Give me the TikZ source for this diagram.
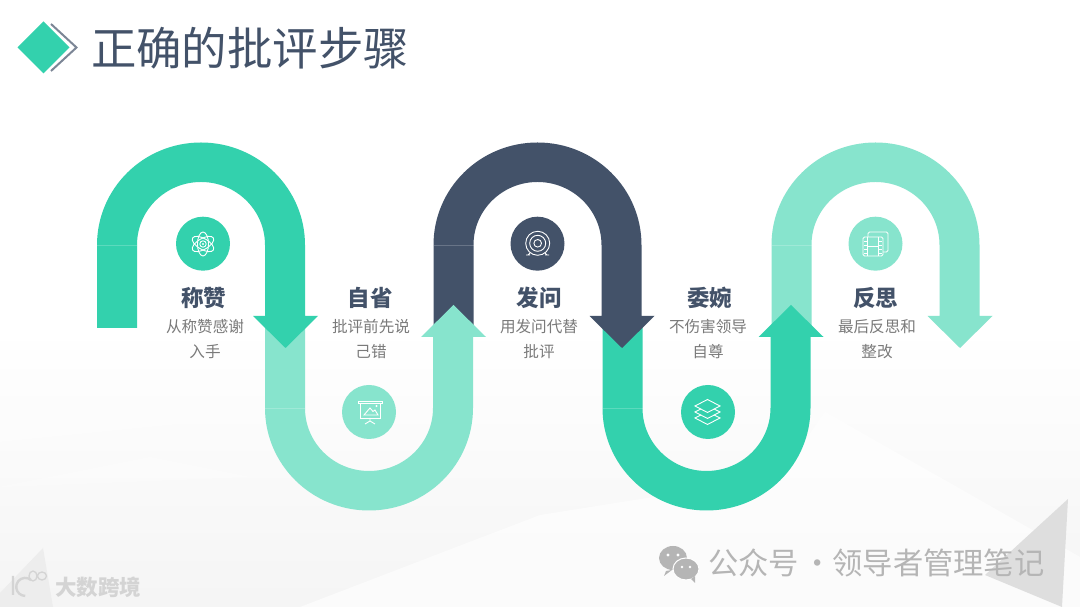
\documentclass[tikz,border=0pt]{standalone}
\usepackage{fontspec}
\setmainfont{Noto Sans CJK SC}
\usepackage{xcolor}
\usepackage{tikz}
\usetikzlibrary{positioning}
\definecolor{ribbongreen}{RGB}{51, 209, 173}
\definecolor{ribbonlight}{RGB}{135, 228, 205}
\definecolor{ribbonslate}{RGB}{67, 82, 105}
\definecolor{bodygray}{RGB}{122, 122, 122}
\definecolor{markgray}{RGB}{181, 181, 181}
\definecolor{chevrongray}{RGB}{124, 134, 150}
\tikzset{
  headtext/.style={font=\fontsize{22.5}{24}\selectfont\bfseries, text=ribbonslate},
  bodytext/.style={font=\fontsize{15.6}{25}\selectfont, text=bodygray, align=center, text width=90pt},
  iconline/.style={draw=white, line width=0.9pt, fill=none}
}

\begin{document}
\begin{tikzpicture}[x=1pt, y=1pt]
  \useasboundingbox (0,0) rectangle (1080,607);
  % faint page ground
  \fill[white] (0,0) rectangle (1080,607);
  \shade[top color=white, bottom color=black!4] (0,0) rectangle (1080,280);
  \fill[white, opacity=0.6] (300,0) -- (540,92) -- (780,130) -- (825,195) -- (1080,50) -- (1080,0) -- cycle;
  \fill[white, opacity=0.3] (0,225) -- (250,190) -- (0,165) -- cycle;
  \fill[white, opacity=0.3] (0,120) -- (150,150) -- (250,130) -- cycle;
  \fill[black!13] (1068,108) -- (985,32) -- (1062,0) -- cycle;
  \fill[black!7] (43,59) -- (0,14) -- (0,0) -- (53,0) -- cycle;

  % title
  \draw[chevrongray, line width=2pt] (51,583) -- (76.5,559.5) -- (51,536);
  \fill[ribbongreen] (43.5,585.5) -- (69.5,559.5) -- (43.5,533.5) -- (17.5,559.5) -- cycle;
  \node[anchor=west, inner sep=0pt, text=ribbonslate, font=\fontsize{45.4}{48}\selectfont] (title) at (91,559) {正确的批评步骤};

  % ribbons, drawn back to front
  \foreach \cx/\cy/\dir/\ys/\hb/\tip/\col in {875.5/362/1/275/291/259/ribbonlight, 706.5/199/-1/285/270/302/ribbongreen, 537.5/362/1/275/291/259/ribbonslate, 369/199/-1/285/270/302/ribbonlight, 201/362/1/279/291/259/ribbongreen} {
    \fill[\col] (\cx-104,\ys) -- (\cx-104,\cy) arc[start angle=180, delta angle=-180*\dir, x radius=104, y radius=102.5]
      -- (\cx+104,\hb) -- (\cx+117,\hb) -- (\cx+84.5,\tip) -- (\cx+52,\hb) -- (\cx+64,\hb)
      -- (\cx+64,\cy) arc[start angle=0, delta angle=180*\dir, x radius=64, y radius=63] -- (\cx-64,\ys) -- cycle;
    \draw[white, opacity=0.2, line width=0.4pt] (\cx-104,\cy) -- (\cx-64,\cy);
  }

  % badges and words
  \foreach \n/\x/\y/\col in {a/203/363.3/ribbongreen, b/369/195/ribbonlight, c/537.5/363.3/ribbonslate, d/708/195/ribbongreen, e/875.5/363.3/ribbonlight}
    \fill[\col] (\x,\y) circle (27);
  \foreach \n/\x/\s/\h/\l/\m in {a/203.5/1.5/称赞/从称赞感谢/入手, b/370/1/自省/批评前先说/己错, c/539/0/发问/用发问代替/批评, d/709.5/-1.5/委婉/不伤害领导/自尊, e/875.5/1.5/反思/最后反思和/整改} {
    \node[headtext] (head\n) at (\x,309) {\h};
    \node[bodytext, below=3.5pt of head\n, xshift=\s pt] (body\n) {\l\\\m};
  }

  % atom
  \foreach \a in {30,90,150}
    \draw[iconline, rotate around={\a:(203,363)}] (203,363) ellipse (12 and 5.5);
  \draw[iconline] (203,363) circle (3.2);
  \fill[white] (203,363) circle (1.1);

  % projector board
  \draw[iconline] (358,206) -- (382,206) -- (382,204) -- (358,204) -- cycle (360,204) -- (360,189) -- (380,189) -- (380,204);
  \draw[iconline] (364,192) -- (370,199) -- (373,195.5) -- (375,197) -- (378,192) -- cycle;
  \draw[iconline] (370,189) -- (370,186) (365,183) -- (370,186) -- (375,183);
  \fill[white] (376.5,201) circle (1.2);

  % target
  \draw[iconline] (537.7,363.7) circle (12) (537.7,363.7) circle (8) (537.7,363.7) circle (3.8);
  \draw[iconline] (530,354) -- (528,352) (526,352) -- (530,352) (545,354) -- (547,352) (545,352) -- (549,352);

  % layers
  \foreach \dy in {-6,0,6}
    \draw[iconline, fill=ribbongreen] (707.5,195+\dy) ++(0,6.5) -- ++(12.5,-6.5) -- ++(-12.5,-6.5) -- ++(-12.5,6.5) -- cycle;

  % film frames
  \draw[iconline, rounded corners=1.5pt] (868,370) -- (868,375) -- (888,375) -- (888,355) -- (883,355);
  \draw[iconline, rounded corners=1.5pt] (863,351) rectangle (883,370);
  \draw[iconline] (867.5,351) -- (867.5,370) (878.5,351) -- (878.5,370) (867.5,360.5) -- (878.5,360.5);
  \foreach \py in {354,358,362,366}
    \draw[white, line width=0.9pt] (864,\py) -- (867,\py) (879,\py) -- (882,\py);

  % watermark
  \node[anchor=west, inner sep=0pt, text=markgray, font=\fontsize{30.3}{32}\selectfont] (mark) at (708,44) {公众号\kern3pt·领导者管理笔记};
  \fill[markgray] (673,49) ellipse (14 and 12) (666,36) -- (664,31) -- (672,37) -- cycle;
  \draw[white, fill=markgray, line width=1pt] (686,38) ellipse (13 and 11);
  \fill[markgray] (691,28) -- (695,24) -- (695,31) -- cycle;
  \fill[white] (668,52) circle (1.6) (678,52) circle (1.6) (682,40) circle (1.4) (690,40) circle (1.4);
  \node[anchor=west, inner sep=0pt, text=black!17, font=\fontsize{21.5}{22}\selectfont\bfseries] (brand) at (55,20) {大数跨境};
  \draw[black!17, line width=2.4pt] (13,31) -- (13,12) (31,27) arc[start angle=50, delta angle=220, radius=9];
  \draw[black!17, line width=1.3pt] (33,31) ellipse (4 and 5) (42,31) ellipse (4.5 and 4);
\end{tikzpicture}
\end{document}
